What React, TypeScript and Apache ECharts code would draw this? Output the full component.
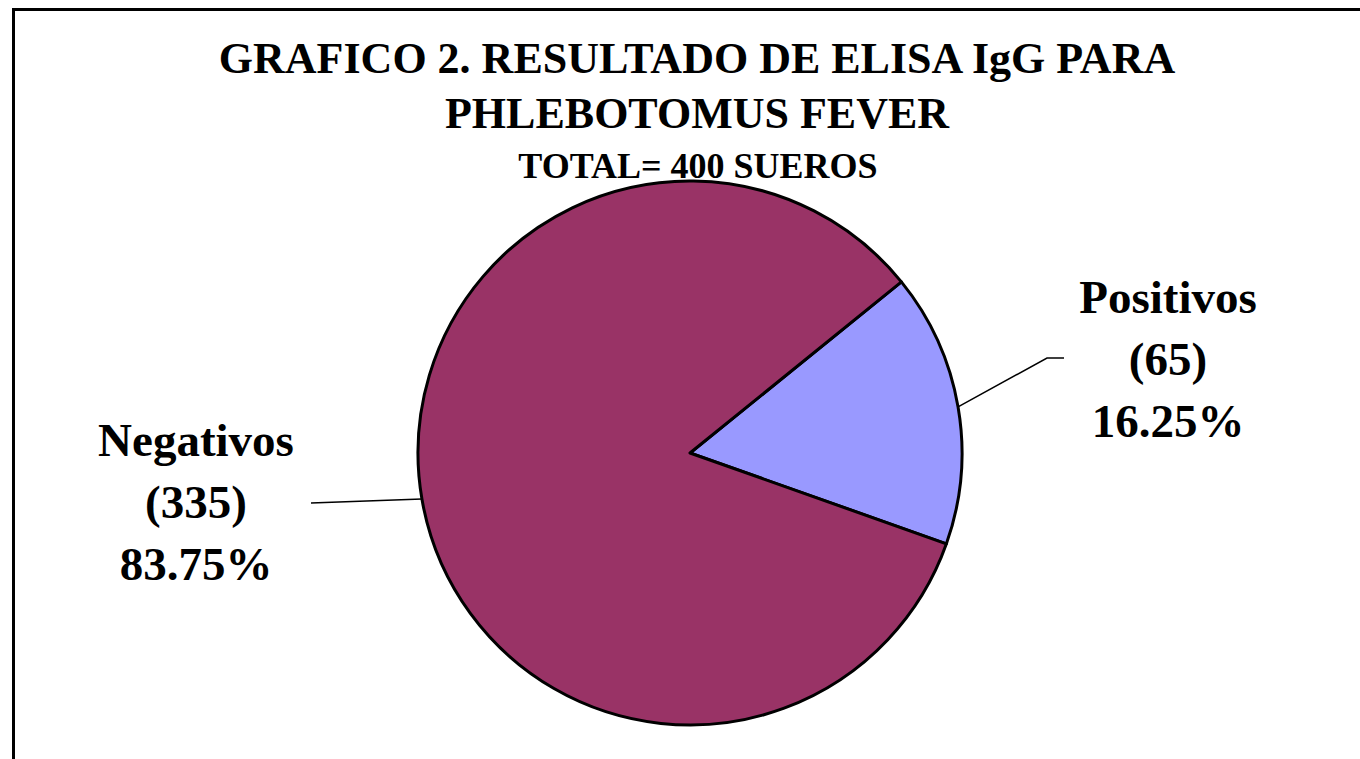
import React, { useEffect, useRef } from "react";
import * as echarts from "echarts";

const categories = ["Positivos", "Negativos"];
const counts = [65, 335];
const sliceColors = ["#9999FF", "#993366"];
const titleLines = ["GRAFICO 2. RESULTADO DE ELISA IgG PARA", "PHLEBOTOMUS FEVER"];
const subtitle = "TOTAL= 400 SUEROS";

const FONT = "'Liberation Serif', 'Times New Roman', serif";

export default function App() {
  const ref = useRef<HTMLDivElement>(null);
  useEffect(() => {
    if (!ref.current) return;
    const chart = echarts.init(ref.current, null, { renderer: "svg" });
    const titleStyle = { fontFamily: FONT, fontWeight: "bold" as const, color: "#000", fontSize: 44 };
    chart.setOption({
      animation: false,
      backgroundColor: "#fff",
      title: [
        { text: titleLines[0], left: 697, top: 36, padding: 0, textAlign: "center", textStyle: { ...titleStyle, lineHeight: 44 } },
        { text: titleLines[1], left: 697, top: 91, padding: 0, textAlign: "center", textStyle: { ...titleStyle, lineHeight: 44 } },
        { text: subtitle, left: 698, top: 148, padding: 0, textAlign: "center", textStyle: { ...titleStyle, fontSize: 36, lineHeight: 36 } },
      ],
      graphic: [
        {
          type: "rect",
          shape: { x: 13.5, y: 9.5, width: 2000, height: 2000 },
          style: { fill: "none", stroke: "#000", lineWidth: 3 },
          silent: true,
        },
      ],
      series: [
        {
          type: "pie",
          center: [690, 453],
          radius: 272,
          startAngle: 39,
          clockwise: true,
          data: categories.map((name, i) => ({
            name,
            value: counts[i],
            itemStyle: { color: sliceColors[i] },
          })),
          itemStyle: { borderColor: "#000", borderWidth: 3 },
          label: {
            show: true,
            position: "outside",
            formatter: "{b}\n({c})\n{d}%",
            fontFamily: FONT,
            fontWeight: "bold",
            fontSize: 47,
            lineHeight: 62,
            color: "#000",
          },
          labelLine: { show: true, lineStyle: { color: "#000", width: 1.5 } },
          labelLayout: (params: any) => {
            const start = params.labelLinePoints ? params.labelLinePoints[0] : null;
            if (params.dataIndex === 0) {
              return {
                x: 1168,
                y: 359,
                align: "center",
                verticalAlign: "middle",
                labelLinePoints: start ? [start, [1047, 358], [1064, 358]] : undefined,
              };
            }
            const end = [311, 503];
            return {
              x: 196,
              y: 502,
              align: "center",
              verticalAlign: "middle",
              labelLinePoints: start
                ? [start, [(start[0] + end[0]) / 2, (start[1] + end[1]) / 2], end]
                : undefined,
            };
          },
        },
      ],
    });
    return () => chart.dispose();
  }, []);
  return (
    <div
      ref={ref}
      style={{ position: "absolute", left: 0, top: 0, width: 1360, height: 759 }}
    />
  );
}
